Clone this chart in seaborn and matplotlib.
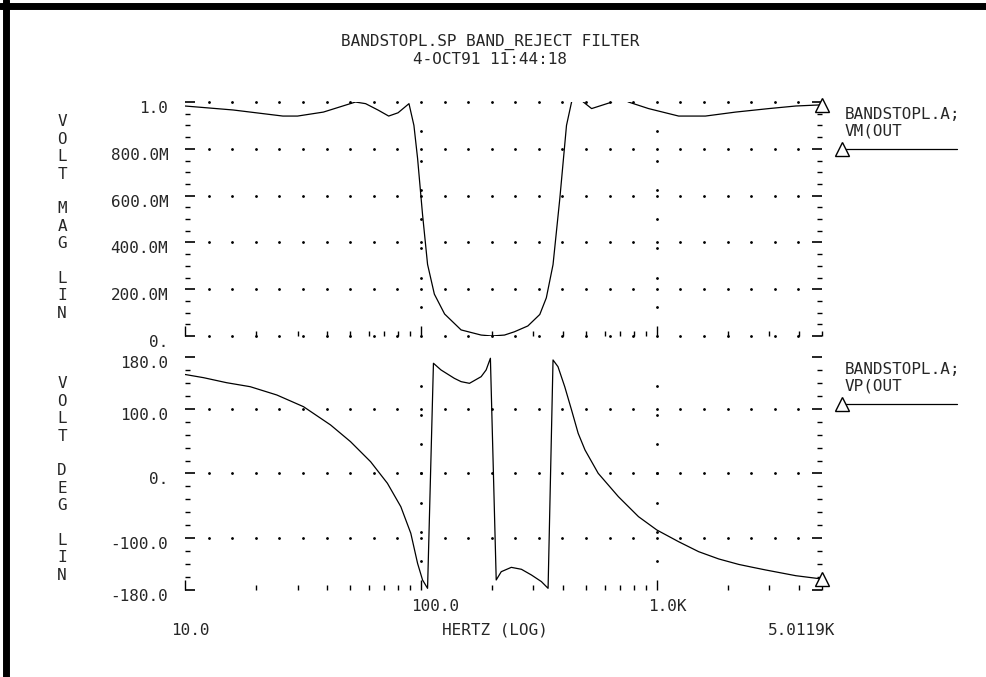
import matplotlib
matplotlib.use("Agg")
import matplotlib.pyplot as plt
import matplotlib.transforms as mtransforms
from matplotlib.lines import Line2D
import numpy as np
import pandas as pd
import seaborn as sns

# --- data -------------------------------------------------------------------
freq_vm = [10, 16, 26, 30, 38.6, 52.8, 58.3, 66, 73, 80, 89, 93.4, 96.8,
           101.6, 106.7, 114, 126, 148, 180, 200, 226, 249, 284, 319, 340, 363,
           388, 414, 435, 460, 488, 529, 632, 700, 758, 922, 1237, 1606, 2155,
           2985, 3880, 5011.9]
vm_out = [0.983, 0.966, 0.94, 0.94, 0.957, 1.0, 0.993, 0.965, 0.94, 0.954,
          0.993, 0.90, 0.759, 0.519, 0.306, 0.179, 0.094, 0.026, 0.004, 0.0,
          0.004, 0.018, 0.043, 0.092, 0.163, 0.305, 0.589, 0.90, 1.0, 1.03,
          1.0, 0.972, 0.997, 1.02, 1.0, 0.972, 0.94, 0.94, 0.957, 0.972,
          0.983, 0.988]

freq_vp = [10, 12, 15, 18.9, 24.5, 31.8, 41.4, 50.3, 61.2, 72.1, 82.2, 90.6,
           96.8, 101.6, 106.7, 113, 121.6, 138.6, 148, 160.6, 180, 189, 197,
           208.5, 219, 241.6, 266.7, 294, 324, 345.9, 363, 381, 407, 435, 464,
           496, 564, 687, 836, 1000, 1237, 1504, 1828, 2225, 2550, 2888, 3880,
           5011.9]
vp_out = [153, 148, 140.3, 134.1, 121.3, 103.2, 75, 49.2, 18.2, -15.1, -51.3,
          -92.4, -138.9, -164.5, -177.4, 170.3, 160, 147, 141.9, 139.3, 149.6,
          160, 178, -164.5, -151.7, -145, -148, -156.8, -167, -177.4, 175.4,
          165, 134, 98, 62, 36.3, 0.3, -35.8, -66.7, -87.3, -105.4, -120.8,
          -132, -140.5, -145, -149, -157.9, -163]

mag_ticks = [0, 0.2, 0.4, 0.6, 0.8, 1.0]
mag_labels = ["0.", "200.0M", "400.0M", "600.0M", "800.0M", "1.0"]
deg_ticks = [-180, -100, 0, 100, 180]
deg_labels = ["-180.0", "-100.0", "0.", "100.0", "180.0"]

x_major = [10, 100, 1000]
x_minor = [20, 30, 40, 50, 60, 70, 80, 90, 200, 300, 400, 500, 600, 700, 800,
           900, 2000, 3000, 4000, 5000]
F_MIN, F_MAX = 10, 5011.9

title_lines = ["BANDSTOPL.SP BAND_REJECT FILTER", "4-OCT91 11:44:18"]

df_vm = pd.DataFrame({"freq": freq_vm, "val": vm_out})
df_vp = pd.DataFrame({"freq": freq_vp, "val": vp_out})

# --- style -------------------------------------------------------------------
sns.set_style("white")
plt.rcParams['font.family'] = ['DejaVu Sans Mono']
plt.rcParams['font.size'] = 11.5

fig = plt.figure(figsize=(9.86, 6.77), dpi=100)
ax1 = fig.add_axes([0.1876, 0.5037, 0.6461, 0.3456])
ax2 = fig.add_axes([0.1876, 0.1285, 0.6461, 0.3442])


def style_panel(ax, ylim, majors, labels, minor_step, grid_rows):
    ax.set_xscale('log')
    ax.set_xlim(F_MIN, F_MAX)
    ax.set_ylim(*ylim)
    ax.set_xlabel('')
    ax.set_ylabel('')
    for s in ax.spines.values():
        s.set_visible(False)
    ax.set_yticks(majors, labels)
    ax.set_yticks(np.arange(ylim[0], ylim[1] + 1e-9, minor_step), minor=True)
    ax.set_xticks(x_major)
    ax.set_xticks(x_minor, minor=True)
    ax.tick_params(axis='y', which='both', direction='in', left=True,
                   right=True, labelleft=True, pad=12, color='black')
    ax.tick_params(axis='y', which='major', length=7.5, width=1.2)
    ax.tick_params(axis='y', which='minor', length=3.5, width=1)
    ax.tick_params(axis='x', which='both', direction='in', bottom=True,
                   top=False, labelbottom=False, labelsize=0, color='black')
    ax.tick_params(axis='x', which='major', length=7.5, width=1)
    ax.tick_params(axis='x', which='minor', length=3.5, width=1)
    ax.grid(False)
    # dotted grid like the old plotter
    gx = 10 ** np.arange(1.1, 3.7, 0.1)
    for yv in grid_rows:
        ax.plot(gx, np.full_like(gx, yv), ls='none', marker='o', ms=1.0,
                color='black', clip_on=False)
    gy = np.linspace(ylim[0], ylim[1], 9)[1:-1]
    for xv in [100, 1000]:
        ax.plot(np.full_like(gy, xv), gy, ls='none', marker='o', ms=1.0,
                color='black', clip_on=False)
    off = mtransforms.ScaledTranslation(0, -0.05, fig.dpi_scale_trans)
    for lab in ax.get_yticklabels():
        lab.set_transform(lab.get_transform() + off)


sns.lineplot(data=df_vm, x="freq", y="val", ax=ax1, color='black', lw=0.9,
             estimator=None, sort=False)
sns.lineplot(data=df_vp, x="freq", y="val", ax=ax2, color='black', lw=0.9,
             estimator=None, sort=False)

style_panel(ax1, (0, 1.0), mag_ticks, mag_labels, 0.05, mag_ticks)
style_panel(ax2, (-180, 180), deg_ticks, deg_labels, 20, [-100, 0, 100])

# end markers and legends
for ax, df, name in [(ax1, df_vm, "VM(OUT"), (ax2, df_vp, "VP(OUT")]:
    ax.plot(df["freq"].iloc[-1], df["val"].iloc[-1], marker='^', ms=10,
            mfc='white', mec='black', mew=1, clip_on=False)
    ax.text(1.036, 0.945, "BANDSTOPL.A;", transform=ax.transAxes,
            ha='left', va='center')
    ax.text(1.036, 0.877, name, transform=ax.transAxes, ha='left',
            va='center')
    ax.plot([1.031, 1.212], [0.80, 0.80], transform=ax.transAxes,
            color='black', lw=0.9, clip_on=False)
    ax.plot([1.031], [0.80], transform=ax.transAxes, marker='^', ms=10,
            mfc='white', mec='black', mew=1, clip_on=False)

ax1.text(-0.193, 0.506, "V\nO\nL\nT\n\nM\nA\nG\n\nL\nI\nN",
         transform=ax1.transAxes, ha='center', va='center', linespacing=1.2)
ax2.text(-0.193, 0.474, "V\nO\nL\nT\n\nD\nE\nG\n\nL\nI\nN",
         transform=ax2.transAxes, ha='center', va='center', linespacing=1.2)

# x labels in two staggered rows
trans = mtransforms.blended_transform_factory(ax2.transData, ax2.transAxes)
row1, row2 = -16 * 0.72, -40 * 0.72
ax2.annotate("100.0", xy=(100, 0), xycoords=trans, xytext=(14 * 0.72, row1),
             textcoords='offset points', ha='center', va='center')
ax2.annotate("1.0K", xy=(1000, 0), xycoords=trans, xytext=(10 * 0.72, row1),
             textcoords='offset points', ha='center', va='center')
ax2.annotate("10.0", xy=(F_MIN, 0), xycoords=trans, xytext=(5 * 0.72, row2),
             textcoords='offset points', ha='center', va='center')
ax2.annotate("5.0119K", xy=(F_MAX, 0), xycoords=trans,
             xytext=(-20 * 0.72, row2), textcoords='offset points',
             ha='center', va='center')
ax2.annotate("HERTZ (LOG)", xy=(0.487, 0), xycoords='axes fraction',
             xytext=(0, row2), textcoords='offset points',
             ha='center', va='center')

fig.text(0.497, 1 - 42 / 677, title_lines[0], ha='center', va='center')
fig.text(0.497, 1 - 59 / 677, title_lines[1], ha='center', va='center')

# heavy frame on top and left
fig.add_artist(Line2D([0, 1], [1 - 5.5 / 677] * 2, transform=fig.transFigure,
                      color='black', lw=5))
fig.add_artist(Line2D([5.5 / 986] * 2, [0, 1], transform=fig.transFigure,
                      color='black', lw=5))

fig.savefig("out.png", dpi=100)
